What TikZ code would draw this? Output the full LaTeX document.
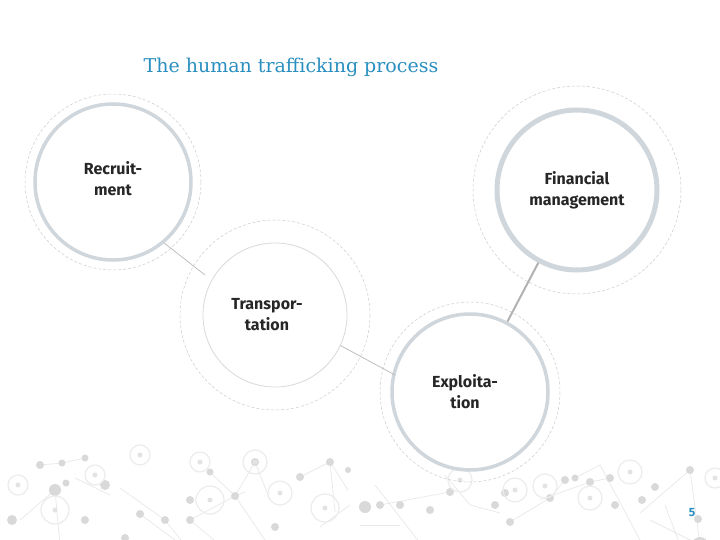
\documentclass[tikz,border=0pt]{standalone}
\usepackage{fontspec}
\setmainfont{Fira Sans}
\newfontfamily\titlefont{DejaVu Serif}
\definecolor{ringc}{HTML}{CFD6DC}
\definecolor{titlec}{HTML}{2A8FC0}
\begin{document}
\begin{tikzpicture}[x=1pt,y=-1pt,
  outer/.style={draw=gray!40,dash pattern=on 3pt off 2pt,line width=0.5pt},
  thick ring/.style={draw=ringc,line width=3.5pt,circle},
  thin ring/.style={draw=gray!30,line width=0.8pt,circle},
  lbl/.style={font=\fontsize{16}{21}\selectfont\bfseries,text=black!85,align=center},
  link/.style={draw=gray!50,line width=0.8pt},
  net/.style={draw=gray!18,line width=0.7pt}]
\useasboundingbox (0,0) rectangle (720,540);
\fill[white] (0,0) rectangle (720,540);
\node[text=titlec,font=\titlefont\fontsize{19}{22}\selectfont] (title) at (291,67) {The human trafficking process};
% bottom network decoration
\foreach \a/\b in {{20,520}/{55,490}, {55,490}/{60,545}, {40,465}/{62,463}, {62,463}/{85,458}, {75,478}/{110,495}, {120,488}/{165,520}, {165,520}/{185,545}, {140,514}/{175,540}, {190,520}/{220,545}, {190,520}/{235,496}, {235,496}/{245,492}, {235,496}/{255,462}, {235,496}/{265,540}, {210,472}/{235,496}, {255,462}/{270,500}, {300,477}/{330,462}, {330,462}/{335,512}, {320,527}/{350,505}, {360,525}/{400,525}, {380,505}/{450,492}, {330,462}/{348,490}, {375,485}/{420,543}, {445,475}/{470,505}, {470,505}/{500,513}, {510,522}/{550,498}, {550,498}/{565,480}, {540,500}/{590,482}, {575,478}/{600,465}, {590,482}/{610,478}, {600,465}/{640,540}, {640,513}/{690,470}, {650,520}/{700,545}, {665,505}/{680,545}, {690,470}/{700,545}} {\draw[net] (\a) -- (\b);}
\foreach \p/\r in {{12,520}/5, {55,490}/6, {40,465}/4, {62,463}/3.5, {85,458}/3.5, {66,483}/3.5, {105,485}/5, {140,514}/4, {85,520}/4, {125,538}/4, {165,520}/4, {190,500}/4, {190,520}/4, {235,496}/4, {255,462}/4, {210,472}/3.5, {275,527}/4, {300,477}/4, {330,462}/4, {348,470}/3, {365,507}/6, {380,505}/4, {400,505}/4, {430,510}/4, {450,492}/4, {495,505}/4, {505,493}/4, {510,522}/4, {550,498}/4, {565,480}/4, {575,478}/3.5, {590,482}/4, {610,478}/4, {615,505}/4, {642,500}/4, {655,487}/4, {690,470}/4, {698,519}/4, {700,545}/8} {\fill[gray!30] (\p) circle (\r);}
\foreach \p/\r in {{18,485}/10, {55,510}/14, {95,475}/10, {140,455}/10, {200,462}/10, {210,500}/14, {255,462}/12, {280,493}/12, {325,508}/14, {460,480}/12, {515,490}/12, {545,486}/12, {590,498}/12, {630,472}/12, {715,478}/10} {\draw[gray!15,line width=1.2pt] (\p) circle (\r); \fill[gray!22] (\p) circle (2.5);}
% circles
\draw[outer] (113,182) circle (88);
\node[thick ring,minimum size=156pt] (rec) at (113,182) {};
\node[lbl] (recl) at (113,179) {Recruit-\\ment};
\draw[outer] (577,190) circle (104);
\node[thick ring,line width=5pt,minimum size=160pt] (fin) at (577,190) {};
\node[lbl] (finl) at (577,190) {Financial\\management};
\draw[outer] (275,315) circle (95);
\node[thin ring,minimum size=144pt] (tra) at (275,315) {};
\node[lbl] (tral) at (267,315) {Transpor-\\tation};
\draw[outer] (470,392) circle (90);
\node[thick ring,minimum size=156pt] (exp) at (470,392) {};
\node[lbl] (expl) at (465,392) {Exploita-\\tion};
\coordinate (c1) at (205,275);
\draw[link] (rec.-50) -- (c1);
\coordinate (c2) at (395,375);
\draw[link] (tra.-25) -- (c2);
\draw[link,draw=gray!60,line width=2pt] (exp.62) -- (fin.-118);
\node[text=titlec,font=\fontsize{12}{14}\selectfont\bfseries] (pg) at (692,513) {5};
\end{tikzpicture}
\end{document}
